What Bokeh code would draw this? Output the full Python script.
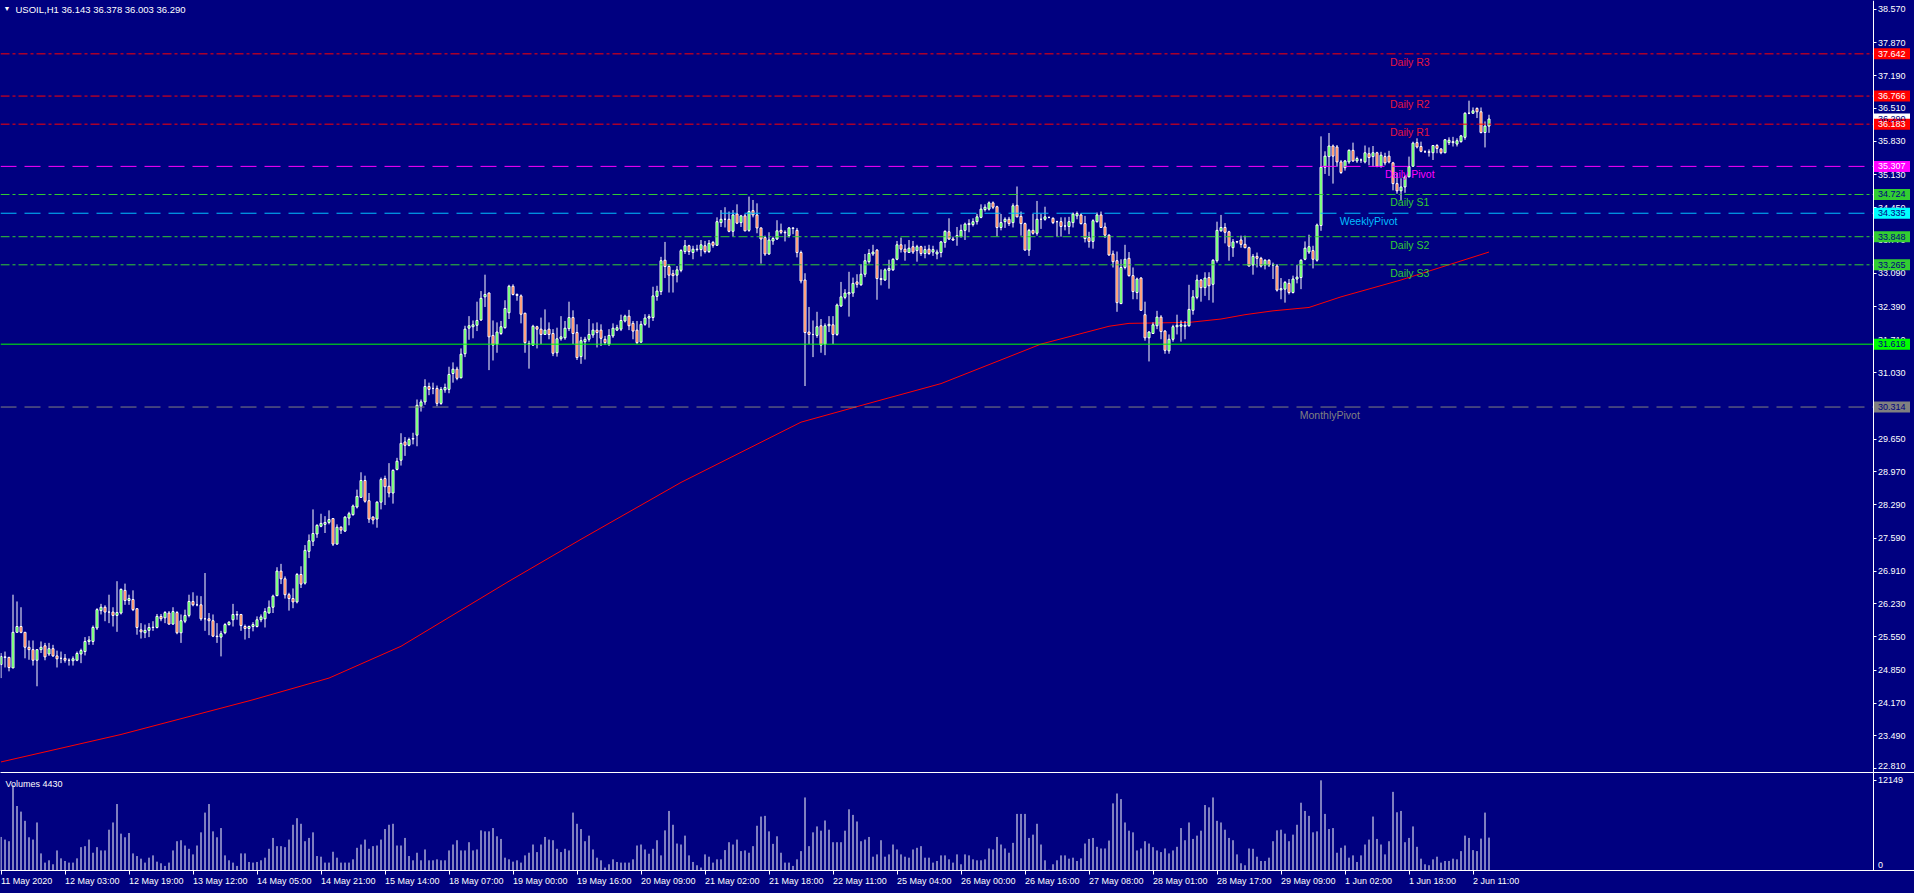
from bokeh.plotting import figure
from bokeh.models import (Range1d, FixedTicker, LinearAxis, Label,
                          PrintfTickFormatter, ColumnDataSource)
from bokeh.layouts import column
from bokeh.embed import file_html
from bokeh.resources import INLINE
from bokeh.core.properties import value

# ---------------- data ----------------
symbol_title = "USOIL,H1  36.143 36.378 36.003 36.290"
volume_title = "Volumes 4430"

bar_open = [
24.97,25.13,25.12,24.90,25.64,25.76,25.64,25.33,25.28,25.06,
25.28,25.36,25.19,25.30,25.15,25.10,25.10,25.06,25.05,25.06,
25.19,25.24,25.45,25.45,25.73,26.09,26.16,26.06,26.06,25.99,
26.04,26.51,26.30,26.32,26.13,25.69,25.63,25.68,25.74,25.74,
25.97,25.94,26.04,25.81,26.05,25.63,25.87,25.99,26.28,26.21,
26.21,25.92,25.92,25.88,25.56,25.54,25.63,25.80,25.90,26.01,
26.01,25.76,25.72,25.76,25.76,25.90,25.92,26.04,26.16,26.40,
26.91,26.75,26.42,26.34,26.27,26.84,26.66,27.32,27.53,27.68,
27.84,27.88,27.92,28.00,27.47,27.82,27.74,28.01,28.08,28.24,
28.44,28.79,28.37,28.03,27.99,28.34,28.83,28.67,28.53,29.02,
29.21,29.59,29.52,29.65,29.73,30.33,30.42,30.74,30.70,30.70,
30.39,30.67,30.68,31.01,31.10,30.92,31.42,31.95,31.98,32.01,
32.12,32.60,32.68,31.80,31.62,31.84,31.96,32.27,32.82,32.65,
32.62,32.26,31.63,31.60,31.98,31.93,31.82,31.93,31.84,31.44,
31.73,31.75,31.94,32.17,31.86,31.36,31.67,31.72,31.81,31.91,
31.91,31.72,31.62,31.79,31.91,31.93,32.10,32.20,32.05,31.91,
31.66,32.03,32.16,32.17,32.61,32.71,33.36,33.23,33.08,33.05,
33.15,33.54,33.66,33.52,33.58,33.58,33.66,33.54,33.73,33.67,
34.14,34.21,34.21,33.96,34.32,34.14,34.28,33.98,34.39,34.30,
34.03,33.83,33.49,33.76,33.80,33.98,33.94,33.87,34.02,33.98,
33.52,32.95,31.87,31.82,31.80,32.00,31.62,32.00,32.02,31.82,
32.41,32.59,32.66,32.68,32.91,32.85,33.07,33.33,33.49,33.57,
32.98,32.95,33.15,33.16,33.38,33.68,33.59,33.52,33.64,33.56,
33.64,33.50,33.59,33.53,33.49,33.52,33.73,33.95,33.80,33.85,
33.85,33.98,34.10,34.10,34.16,34.25,34.41,34.42,34.55,34.47,
34.04,34.16,34.21,34.14,34.50,34.27,34.12,33.57,33.98,33.92,
34.21,34.21,34.25,34.23,34.16,34.16,34.07,34.06,34.14,34.28,
34.30,34.12,33.83,33.75,34.16,34.30,34.05,33.88,33.49,33.35,
32.46,33.21,33.40,33.04,32.69,32.99,32.23,31.75,31.84,32.00,
32.18,31.89,31.48,31.72,31.98,31.99,31.99,32.00,32.32,32.59,
32.95,32.79,33.00,32.86,33.35,33.97,34.04,33.95,33.62,33.74,
33.78,33.69,33.62,33.26,33.44,33.40,33.26,33.36,33.26,33.24,
32.745,32.76,32.88,32.69,32.97,33.00,33.38,33.53,33.56,33.36,
34.08,35.29,35.51,35.73,35.71,35.40,35.28,35.40,35.64,35.42,
35.44,35.40,35.57,35.51,35.59,35.31,35.51,35.52,35.38,34.95,
34.80,34.88,35.09,35.31,35.80,35.72,35.61,35.61,35.59,35.74,
35.67,35.59,35.80,35.80,35.77,35.82,35.91,36.41,36.41,36.51,
36.44,36.01,36.143]

bar_high = [
25.21,25.24,25.13,26.42,26.28,26.16,25.64,25.47,25.47,25.28,
25.45,25.42,25.42,25.38,25.26,25.24,25.19,25.10,25.14,25.24,
25.30,25.54,25.56,25.78,26.14,26.23,26.20,26.42,26.16,26.70,
26.55,26.65,26.42,26.51,26.13,25.83,25.80,25.83,25.87,26.02,
26.02,26.08,26.08,26.16,26.08,26.01,26.11,26.42,26.47,26.40,
26.39,26.87,26.04,26.01,25.83,25.67,25.83,25.87,26.23,26.08,
26.02,25.80,25.78,25.85,25.97,26.01,26.14,26.30,26.42,26.99,
27.06,26.80,26.46,26.55,26.87,27.01,27.45,27.67,28.19,27.88,
28.10,28.05,28.17,28.01,27.88,27.84,28.05,28.14,28.29,28.60,
28.96,28.89,28.53,28.05,28.36,28.85,28.89,29.15,29.02,29.26,
29.77,29.69,29.68,29.78,30.47,30.47,30.89,30.82,30.82,30.76,
30.73,30.80,31.15,31.24,31.15,31.53,32.00,32.20,32.11,32.50,
32.72,33.06,32.69,32.11,32.07,32.10,32.53,32.85,32.86,32.67,
32.65,32.27,31.69,32.02,32.00,32.17,32.34,32.07,31.93,31.96,
32.20,32.10,32.50,32.32,32.03,31.77,31.77,32.14,32.05,32.07,
32.03,31.79,31.93,32.05,32.02,32.23,32.23,32.33,32.10,32.10,
32.10,32.24,32.24,32.81,32.83,33.43,33.74,33.28,33.16,33.24,
33.59,33.78,33.68,33.66,33.68,33.78,33.76,33.78,33.76,34.25,
34.40,34.46,34.37,34.40,34.52,34.30,34.32,34.68,34.61,34.54,
34.04,33.87,33.94,33.85,34.19,34.12,33.98,34.05,34.04,34.03,
33.56,33.09,32.39,32.11,32.29,32.14,32.05,32.20,32.20,32.46,
32.91,32.76,33.12,33.00,33.07,33.28,33.49,33.59,33.68,33.59,
33.17,33.19,33.37,33.40,33.76,33.83,33.69,33.78,33.76,33.68,
33.66,33.66,33.68,33.66,33.58,33.76,33.98,34.23,33.85,34.05,
34.10,34.14,34.21,34.23,34.32,34.52,34.52,34.58,34.58,34.49,
34.32,34.25,34.26,34.54,34.89,34.37,34.14,34.01,34.32,34.59,
34.32,34.47,34.26,34.25,34.18,34.25,34.25,34.26,34.35,34.37,
34.33,34.28,33.95,34.21,34.35,34.37,34.14,33.90,33.56,33.54,
33.38,33.68,33.53,33.21,33.00,33.01,32.50,31.89,32.07,32.31,
32.22,31.91,31.82,32.02,32.23,32.11,32.10,32.85,32.74,33.06,
32.97,33.11,33.11,33.38,34.16,34.30,34.13,33.97,33.80,33.76,
33.87,33.87,33.64,33.49,33.52,33.43,33.38,33.38,33.31,33.28,
32.99,32.93,32.97,33.04,33.26,33.38,33.75,33.89,33.66,34.12,
35.93,35.62,36.00,35.76,35.75,35.44,35.44,35.66,35.80,35.51,
35.47,35.74,35.70,35.73,35.61,35.61,35.59,35.63,35.40,35.17,
35.06,35.12,35.51,35.82,35.89,35.82,35.64,35.66,35.75,35.77,
35.68,35.87,35.91,35.92,35.89,35.96,36.43,36.67,36.53,36.53,
36.53,36.24,36.378]

bar_low = [
24.69,24.91,24.83,24.90,25.64,25.62,25.10,25.07,24.95,24.52,
25.21,25.06,25.15,25.13,24.91,25.00,25.01,24.95,24.95,25.04,
25.00,25.16,25.38,25.38,25.69,26.01,25.87,25.83,25.76,25.65,
26.01,26.21,26.21,26.08,25.59,25.51,25.52,25.54,25.67,25.72,
25.87,25.83,25.80,25.80,25.60,25.42,25.83,25.95,26.18,26.18,
25.88,25.67,25.58,25.54,25.42,25.14,25.60,25.78,25.76,25.90,
25.67,25.49,25.52,25.66,25.74,25.85,25.74,26.03,26.04,26.39,
26.64,26.34,26.09,26.14,26.24,26.56,26.63,27.18,27.43,27.60,
27.82,27.70,27.88,27.43,27.46,27.68,27.72,27.86,28.06,28.21,
28.43,28.33,27.91,27.88,27.81,28.19,28.28,28.44,28.31,29.00,
29.10,29.30,29.50,29.54,29.50,30.22,30.36,30.56,30.58,30.33,
30.36,30.61,30.60,30.82,30.87,30.91,31.35,31.71,31.74,31.89,
32.10,32.39,31.08,31.28,31.44,31.81,31.94,32.14,32.63,32.52,
32.05,31.44,31.11,31.58,31.53,31.62,31.81,31.72,31.37,31.36,
31.69,31.71,31.89,31.62,31.29,31.21,31.30,31.67,31.75,31.55,
31.58,31.60,31.58,31.75,31.89,31.89,32.07,31.91,31.72,31.62,
31.65,32.00,31.96,32.10,32.52,32.64,32.99,32.69,32.69,32.90,
33.11,33.49,33.47,33.38,33.54,33.44,33.50,33.51,33.62,33.66,
34.05,34.04,33.94,33.85,34.11,34.05,33.96,33.95,34.25,33.92,
33.29,33.45,33.47,33.68,33.78,33.90,33.75,33.83,33.90,33.42,
32.88,30.75,31.62,31.35,31.75,31.44,31.39,31.87,31.62,31.79,
32.39,32.55,32.19,32.60,32.79,32.83,33.01,33.29,33.45,32.54,
32.84,32.93,32.77,33.14,33.36,33.52,33.35,33.51,33.49,33.33,
33.45,33.40,33.47,33.45,33.38,33.42,33.62,33.78,33.76,33.66,
33.83,33.78,33.94,34.06,34.10,34.23,34.37,34.39,34.42,33.85,
33.98,34.03,34.07,34.04,34.25,33.87,33.56,33.45,33.89,33.87,
34.01,34.18,34.23,34.11,33.85,33.85,33.98,33.90,34.04,34.21,
34.10,33.73,33.62,33.60,34.14,34.03,33.82,33.45,33.21,32.29,
32.45,33.17,33.02,32.55,32.55,32.31,31.69,31.26,31.84,31.93,
31.72,31.42,31.42,31.67,31.82,31.67,31.72,31.98,32.23,32.55,
32.50,32.62,32.53,32.48,33.31,33.95,33.71,33.35,33.43,33.71,
33.62,33.61,33.23,33.06,33.21,33.21,33.17,33.22,32.97,32.71,
32.55,32.48,32.65,32.67,32.88,32.76,33.36,33.49,33.19,33.33,
33.97,35.15,35.11,34.95,35.30,35.15,35.22,35.36,35.40,35.38,
35.38,35.37,35.33,35.30,35.29,35.28,35.33,35.37,34.81,34.74,
34.61,34.76,35.08,35.30,35.68,35.60,35.59,35.51,35.44,35.58,
35.56,35.58,35.75,35.72,35.72,35.80,35.86,36.39,36.40,36.31,
35.99,35.70,36.003]

bar_close = [
25.14,25.12,24.91,25.64,25.76,25.64,25.33,25.28,25.06,25.28,
25.33,25.13,25.30,25.15,25.09,25.10,25.06,25.06,25.09,25.20,
25.26,25.45,25.48,25.74,26.11,26.16,26.06,26.06,25.99,26.05,
26.53,26.30,26.34,26.11,25.74,25.65,25.68,25.74,25.745,25.97,
25.92,26.05,25.81,26.07,25.63,25.88,25.99,26.28,26.21,26.21,
25.92,25.92,25.88,25.56,25.55,25.61,25.80,25.85,26.01,26.00,
25.78,25.72,25.76,25.80,25.90,25.96,26.07,26.16,26.39,26.91,
26.75,26.42,26.34,26.27,26.84,26.64,27.34,27.54,27.69,27.86,
27.90,27.92,27.98,27.47,27.82,27.76,28.03,28.10,28.26,28.46,
28.79,28.36,27.99,27.97,28.34,28.81,28.66,28.53,29.00,29.19,
29.56,29.52,29.64,29.66,30.35,30.42,30.74,30.68,30.70,30.39,
30.68,30.72,30.99,31.10,30.91,31.41,31.93,32.00,32.02,32.11,
32.57,32.65,31.77,31.60,31.87,31.98,32.36,32.82,32.65,32.63,
32.24,31.65,31.62,31.99,31.93,31.82,31.91,31.82,31.43,31.73,
31.77,31.95,32.17,31.84,31.34,31.69,31.72,31.82,31.91,31.86,
31.74,31.65,31.80,31.95,31.96,32.11,32.20,32.00,31.89,31.65,
32.03,32.16,32.19,32.62,32.72,33.35,33.23,33.05,33.04,33.16,
33.56,33.66,33.54,33.59,33.59,33.68,33.54,33.71,33.67,34.16,
34.21,34.21,33.96,34.30,34.13,34.28,33.97,34.37,34.30,34.03,
33.80,33.49,33.78,33.81,33.97,33.94,33.93,34.03,34.03,33.52,
32.93,31.86,31.82,31.82,31.98,31.60,32.00,32.03,31.82,32.43,
32.60,32.68,32.69,32.88,32.86,33.07,33.35,33.50,33.53,32.98,
32.96,33.16,33.19,33.38,33.68,33.59,33.53,33.61,33.53,33.64,
33.50,33.58,33.50,33.58,33.53,33.74,33.96,33.80,33.78,33.87,
33.98,34.11,34.12,34.16,34.26,34.42,34.46,34.55,34.46,34.04,
34.14,34.21,34.12,34.49,34.26,34.12,33.57,33.98,33.92,34.21,
34.21,34.26,34.25,34.14,34.16,34.06,34.07,34.16,34.32,34.33,
34.12,33.81,33.75,34.18,34.30,34.04,33.88,33.47,33.33,32.48,
33.21,33.38,33.04,32.71,32.97,32.32,31.75,31.87,32.02,32.18,
31.88,31.49,31.72,31.98,32.01,32.02,32.01,32.34,32.60,32.95,
32.79,32.99,32.83,33.36,33.98,34.04,33.94,33.65,33.74,33.745,
33.69,33.62,33.24,33.44,33.40,33.24,33.36,33.26,33.26,32.74,
32.77,32.90,32.69,32.97,33.01,33.36,33.61,33.64,33.38,34.09,
35.29,35.52,35.73,35.52,35.40,35.18,35.42,35.64,35.42,35.47,
35.44,35.59,35.49,35.59,35.31,35.54,35.38,35.40,34.95,34.80,
34.88,35.09,35.30,35.79,35.71,35.62,35.61,35.60,35.74,35.68,
35.59,35.86,35.85,35.82,35.84,35.94,36.41,36.41,36.46,36.44,
36.01,36.143,36.290]

bar_volume = [
4518,4164,3942,11478,8686,7932,6691,4474,4164,6469,
2302,1061,1371,839,2701,1637,1282,1061,1061,1637,
3144,3277,4164,2391,3144,2701,2701,5494,6469,8952,
4962,4474,5051,2302,1947,1593,1061,1726,2036,1193,
972,617,1061,2701,3942,4075,3366,2923,2169,3366,
5139,7799,8952,5272,4474,5715,2036,1371,1061,617,
2302,2302,1149,1061,1149,1371,1726,2923,4386,3277,
3277,3144,4164,6159,7045,6292,3942,4386,5139,1947,
1859,1061,1061,2524,1726,1061,1061,1061,1504,3056,
3499,4164,2923,3277,3366,4164,5582,6159,6292,3366,
3366,4386,1947,1371,2391,1371,2834,1371,1371,1504,
1371,1371,2701,3499,4075,2701,2701,3809,2701,2834,
5405,5272,5272,5715,4607,4253,1726,1504,1193,1371,
1061,2036,2391,3499,2479,3499,4518,4164,4075,2923,
2479,2923,2701,7799,6292,5582,3942,4696,2834,1726,
1371,396,839,1504,1149,1061,1061,1061,1504,3366,
3499,2834,2258,2923,4075,2036,5405,8021,6159,3632,
3499,4696,2036,1149,706,396,2169,1859,1061,1504,
1504,2745,3809,3499,4164,2612,2701,2391,3277,6026,
7267,7356,5272,3588,4607,2391,1061,1061,617,1504,
2612,9838,3277,5139,5937,5361,6735,5494,3809,3809,
3809,5361,8242,7489,6602,3942,4164,4518,1859,2169,
4075,1859,2169,3499,2834,2169,1859,1726,2834,3056,
3277,1726,1726,1061,1282,2036,2036,1504,1061,2169,
839,2169,2036,1504,1371,1371,1504,2967,2834,4518,
3499,2967,2391,3721,7622,7622,7622,4386,4829,6292,
3499,1371,100,839,1371,2036,2036,1593,1726,1282,
1637,3632,4253,4386,3189,2967,2967,4031,9040,10370,
9617,6469,5361,5139,2701,2967,3942,3632,3144,2701,
2479,2967,2302,2701,3189,5715,4075,6469,4253,4696,
5361,8818,8508,9838,6691,6469,5494,4386,4075,2169,
972,706,2967,2923,1859,1282,1282,1726,3942,5405,
5494,4962,3942,4829,6159,9129,8021,7356,5139,5272,
12143,7622,5582,5715,2391,3056,3366,1726,2036,1149,
2036,3499,4164,7267,4253,3499,2169,3942,10592,7843,
8021,3809,4386,5937,3189,1593,839,706,1504,1859,
1061,1282,1282,1593,1504,2612,4696,4386,2745,2612,
4297,7799,4430]

# red moving average, read at a few bars
ma_bar = [0, 30, 63, 82, 100, 127, 145, 170, 200, 220, 235, 260, 277, 282,
          297, 305, 311, 318, 327, 335, 350, 372]
ma_value = [22.95, 23.52, 24.24, 24.69, 25.35, 26.70, 27.57, 28.75, 30.00,
            30.46, 30.80, 31.62, 31.99, 32.05, 32.07, 32.14, 32.23, 32.31,
            32.38, 32.60, 32.95, 33.53]

# horizontal pivot levels
level_value = [37.642, 36.766, 36.183, 35.307, 34.724, 34.335, 33.848, 33.265, 31.618, 30.314]
level_name = ["Daily R3", "Daily R2", "Daily R1", "Daily Pivot", "Daily S1",
              "WeeklyPivot", "Daily S2", "Daily S3", "", "MonthlyPivot"]
level_label_bar = [352.2, 352.2, 352.2, 352.2, 352.2, 341.9, 352.2, 352.2, 0, 332.2]
current_price = 36.290

price_ticks = [38.570, 37.870, 37.190, 36.510, 35.830, 35.130, 34.450, 33.770,
               33.090, 32.390, 31.710, 31.030, 30.350, 29.650, 28.970, 28.290,
               27.590, 26.910, 26.230, 25.550, 24.850, 24.170, 23.490, 22.810]
volume_ticks = [0, 12149]

time_tick_bar = [0, 16, 32, 48, 64, 80, 96, 112, 128, 144, 160, 176, 192, 208,
                 224, 240, 256, 272, 288, 304, 320, 336, 352, 368]
time_tick_label = ["11 May 2020", "12 May 03:00", "12 May 19:00", "13 May 12:00",
                   "14 May 05:00", "14 May 21:00", "15 May 14:00", "18 May 07:00",
                   "19 May 00:00", "19 May 16:00", "20 May 09:00", "21 May 02:00",
                   "21 May 18:00", "22 May 11:00", "25 May 04:00", "26 May 00:00",
                   "26 May 16:00", "27 May 08:00", "28 May 01:00", "28 May 17:00",
                   "29 May 09:00", "1 Jun 02:00", "1 Jun 18:00", "2 Jun 11:00"]

# ---------------- styles ----------------
BG = "#000080"
FONT = "Liberation Sans"
RED, MAG, GRN, CYN, LIME, GRY = "#FF0000", "#FF00FF", "#32CD32", "#00BFFF", "#00FF00", "#808080"
level_line_color = [RED, RED, RED, MAG, GRN, CYN, GRN, GRN, LIME, GRY]
level_text_color = ["#E6143C", "#E6143C", "#E6143C", MAG, GRN, CYN, GRN, GRN, LIME, GRY]
level_box_color = [RED, RED, RED, MAG, GRN, "#00FFFF", GRN, GRN, LIME, GRY]
level_box_text = ["white", "white", "white", "white", BG, BG, BG, BG, BG, BG]
DASHDOT, DASH = "9 3 3 3", "16 8"
level_dash = [DASHDOT, DASHDOT, DASHDOT, DASH, DASHDOT, DASH, DASHDOT, DASHDOT, "solid", DASH]

PLOT_W = 1914
PX_BAR = 4.0                      # pixels per bar
X0 = -0.125
AXIS_X = X0 + 1872.5 / PX_BAR     # price-scale line position
xr = Range1d(X0, X0 + PLOT_W / PX_BAR)

P1_FRAME_H = 771
P1_H = P1_FRAME_H + 1
P2_H = 893 - P1_H
P2_BOTTOM = 21

n = len(bar_open)
idx = list(range(n))
body_top = [max(o, c) for o, c in zip(bar_open, bar_close)]
body_bot = [min(o, c) for o, c in zip(bar_open, bar_close)]
body_col = ["#00FF00" if c >= o else "#FF4500" for o, c in zip(bar_open, bar_close)]
src = ColumnDataSource(dict(x=idx, h=bar_high, l=bar_low, top=body_top, bot=body_bot,
                            col=body_col, vol=bar_volume))

try:
    from bokeh.models import InlineStyleSheet
    crisp = [InlineStyleSheet(css="svg { shape-rendering: crispEdges; }")]
except Exception:
    crisp = []


def style_fig(p):
    p.background_fill_color = BG
    p.border_fill_color = BG
    p.outline_line_color = None
    p.xgrid.visible = False
    p.ygrid.visible = False
    if crisp:
        p.stylesheets = list(crisp)


def line_only_axis(ax):
    ax.ticker = FixedTicker(ticks=[])
    ax.major_label_text_font_size = "0px"
    ax.major_tick_line_color = None
    ax.minor_tick_line_color = None
    ax.major_label_standoff = 0
    ax.axis_line_color = "white"
    ax.axis_line_width = 1


def price_scale(ticks, fmt, hidden):
    ax = LinearAxis(fixed_location=AXIS_X)
    ax.ticker = FixedTicker(ticks=ticks)
    ax.formatter = PrintfTickFormatter(format=fmt)
    ax.major_label_overrides = {t: "" for t in hidden}
    ax.major_label_text_color = "white"
    ax.major_label_text_font = FONT
    ax.major_label_text_font_size = "9px"
    ax.axis_line_color = "white"
    ax.major_tick_line_color = "white"
    ax.major_tick_out = 3
    ax.major_tick_in = 0
    ax.minor_tick_line_color = None
    ax.major_label_standoff = 2
    return ax


# ---------------- price panel ----------------
p1 = figure(width=PLOT_W, height=P1_H, x_range=xr,
            y_range=Range1d(22.731, 38.749), output_backend="svg",
            toolbar_location=None, tools="", x_axis_location="below",
            y_axis_location=None, min_border_left=0, min_border_top=0,
            min_border_bottom=0, min_border_right=0)
style_fig(p1)
line_only_axis(p1.xaxis[0])
p1.add_layout(price_scale(price_ticks, "%.3f", [price_ticks[-1]]), "right")
# lowest scale label sits on the panel's bottom edge: drawn a little higher
p1.text(x=[AXIS_X], y=[price_ticks[-1]], text=[f"{price_ticks[-1]:.3f}"],
        text_color="white", x_offset=5, y_offset=-2.5, text_align="left",
        text_baseline="middle", text_font=value(FONT), text_font_size="9px")

p1.line(ma_bar, ma_value, line_color=RED, line_width=1)
p1.segment(x0="x", y0="l", x1="x", y1="h", source=src, line_color="white", line_width=1)
p1.vbar(x="x", width=0.5, top="top", bottom="bot", fill_color="col",
        line_color="white", line_width=1, source=src)

for v, c, d in zip(level_value, level_line_color, level_dash):
    p1.segment(x0=[X0], y0=[v], x1=[AXIS_X], y1=[v], line_color=c, line_width=1,
               line_dash=d)

names = [(b, v, t, c) for b, v, t, c in zip(level_label_bar, level_value, level_name,
                                            level_text_color) if t]
name_src = ColumnDataSource(dict(x=[a[0] for a in names], y=[a[1] for a in names],
                                 t=[a[2] for a in names], c=[a[3] for a in names]))
p1.text(x="x", y="y", text="t", text_color="c", source=name_src,
        text_font=value(FONT), text_font_size="10.5px", text_align="center",
        text_baseline="top", y_offset=2)

# price tags on the scale
tag_src = ColumnDataSource(dict(
    y=[current_price] + level_value,
    t=[f"{current_price:.3f}"] + [f"{v:.3f}" for v in level_value],
    bg=["white"] + level_box_color,
    fg=[BG] + level_box_text))
p1.rect(x=AXIS_X + 19 / PX_BAR, y="y", width=36, height=11, width_units="screen",
        height_units="screen", fill_color="bg", line_color=None, source=tag_src,
        level="overlay")
p1.text(x=AXIS_X, y="y", text="t", text_color="fg", x_offset=5, text_align="left",
        text_baseline="middle", text_font=value(FONT), text_font_size="9px",
        source=tag_src, level="overlay")

p1.add_layout(Label(x=6.5, y=P1_FRAME_H - 7, x_units="screen", y_units="screen",
                    text="\u25BC", text_align="center", text_baseline="middle",
                    text_font_size="7px", text_color="white"))
p1.add_layout(Label(x=15, y=P1_FRAME_H - 7.5, x_units="screen", y_units="screen",
                    text=symbol_title, text_align="left", text_baseline="middle",
                    text_font=FONT, text_font_size="9.5px", text_color="white"))

# ---------------- volume panel ----------------
p2 = figure(width=PLOT_W, height=P2_H, x_range=xr, y_range=Range1d(0, 13200),
            output_backend="svg", toolbar_location=None, tools="",
            x_axis_location="below", y_axis_location=None, min_border_left=0,
            min_border_top=0, min_border_bottom=P2_BOTTOM, min_border_right=0)
style_fig(p2)
top_ax = LinearAxis()
line_only_axis(top_ax)
p2.add_layout(top_ax, "above")
p2.add_layout(price_scale(volume_ticks, "%d", [0]), "right")
# the zero label of the volume scale is drawn just above its tick
p2.text(x=[AXIS_X], y=[volume_ticks[0]], text=["0"], text_color="white",
        x_offset=5, y_offset=-6, text_align="left", text_baseline="middle",
        text_font=value(FONT), text_font_size="9px")

xax = p2.below[0]
xax.ticker = FixedTicker(ticks=time_tick_bar)
xax.major_label_overrides = {b: t for b, t in zip(time_tick_bar, time_tick_label)}
xax.major_label_text_color = "white"
xax.major_label_text_font = FONT
xax.major_label_text_font_size = "9px"
xax.major_label_orientation = -0.0001
xax.axis_line_color = "white"
xax.major_tick_line_color = "white"
xax.major_tick_out = 4
xax.major_tick_in = 0
xax.minor_tick_line_color = None
xax.major_label_standoff = 6

p2.segment(x0="x", y0=0, x1="x", y1="vol", source=src, line_color="white", line_width=1)
p2.add_layout(Label(x=5, y=P2_H - 1 - 23 - 10, x_units="screen", y_units="screen",
                    text=volume_title, text_align="left", text_baseline="middle",
                    text_font=FONT, text_font_size="9px", text_color="white"))

css = "html, body { background-color: #000080; overflow: hidden; }"
try:
    from bokeh.models import GlobalInlineStyleSheet
    layout = column(p1, p2, spacing=0, stylesheets=[GlobalInlineStyleSheet(css=css)])
except Exception:
    layout = column(p1, p2, spacing=0)

open("out.html", "w").write(file_html(layout, INLINE))
